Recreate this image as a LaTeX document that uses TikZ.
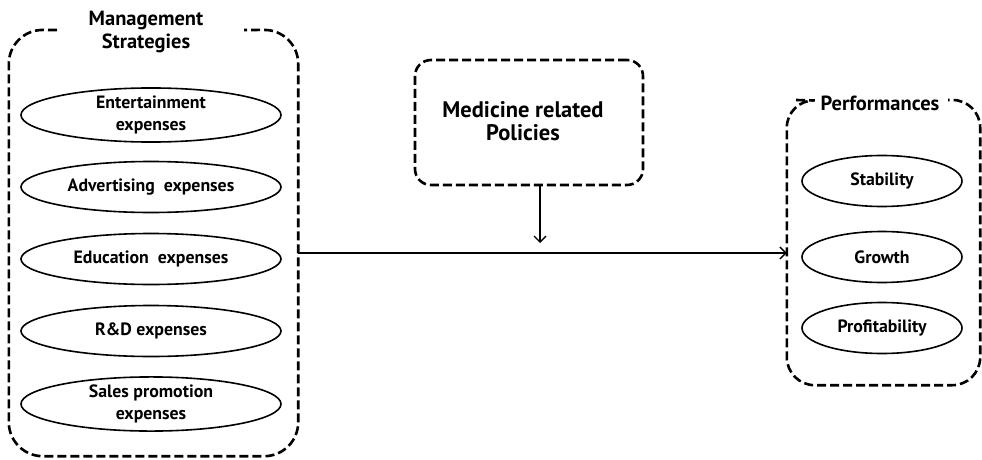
\documentclass[tikz,border=0pt]{standalone}
\usepackage{fontspec}
\setmainfont{PT Sans}
\usetikzlibrary{shapes.geometric,arrows.meta}
\tikzset{
  cont/.style={line width=2.6pt, dash pattern=on 9pt off 4pt, rounded corners=34pt},
  item/.style={ellipse, draw, line width=1.6pt, minimum width=260pt, minimum height=51pt, inner sep=0pt, align=center, font=\fontsize{17.8}{22}\selectfont\bfseries},
  ritem/.style={item, minimum width=160pt},
  ttl/.style={align=center, font=\fontsize{20.5}{23}\selectfont\bfseries, inner sep=0pt},
  conn/.style={line width=1.4pt, -{Straight Barb[length=6pt,width=12pt,line width=1.4pt]}},
}
\begin{document}
\begin{tikzpicture}[x=1pt,y=-1pt]
\useasboundingbox[fill=white] (0,0) rectangle (982,460);
% left container
\node[minimum width=289pt, minimum height=426pt, inner sep=0pt] (ms) at (153.5,243) {};
\draw[cont] (57,30) -- (ms.north west) -- (ms.south west) -- (ms.south east) -- (ms.north east) -- (244,30);
\node[ttl] (mst) at (146,32) {Management\\Strategies};
\node[item] (ent) at (151,115) {Entertainment\\expenses};
\node[item] (adv) at (151,187) {Advertising\ \ expenses};
\node[item] (edu) at (151,259) {Education\ \ expenses};
\node[item] (rnd) at (151,331) {R\&D expenses};
\node[item] (sal) at (151,404) {Sales promotion\\expenses};
% policies
\node[minimum width=228pt, minimum height=125pt, inner sep=0pt, line width=2.6pt, dash pattern=on 9pt off 4pt, rounded corners=16pt, draw] (pol) at (529,122.5) {};
\node[ttl, font=\fontsize{22.5}{23}\selectfont\bfseries] (polt) at (523,121) {Medicine related\\Policies};
% right container
\node[minimum width=193pt, minimum height=285pt, inner sep=0pt] (perf) at (883.5,242.5) {};
\draw[cont, rounded corners=28pt] (796,100) -- (perf.north west) -- (perf.south west) -- (perf.south east) -- (perf.north east) -- (948,100);
\node[ttl] (perft) at (880,103) {Performances};
\node[ritem] (sta) at (882,181) {Stability};
\node[ritem] (gro) at (882,257) {Growth};
\node[ritem] (pro) at (882,328) {Profitability};
% connectors
\coordinate (pend) at (540,243);
\draw[conn] (pol.south -| pend) -- (pend);
\draw[conn] ([yshift=-10pt]ms.east) -- ([yshift=-10.5pt]perf.west);
\end{tikzpicture}
\end{document}
